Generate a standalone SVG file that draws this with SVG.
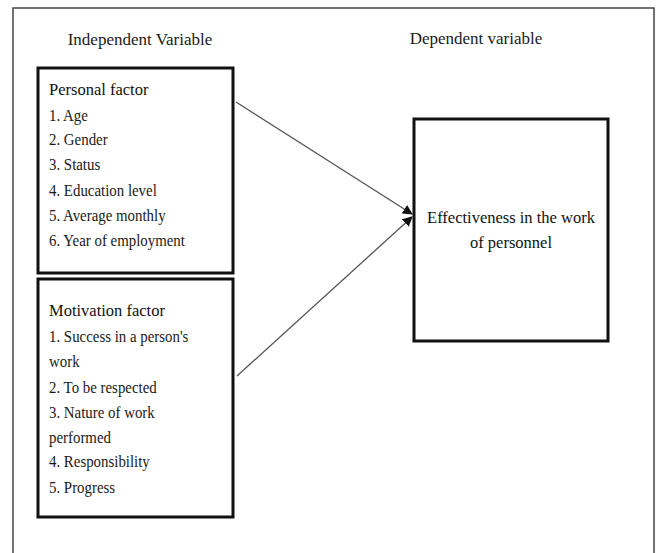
<svg xmlns="http://www.w3.org/2000/svg" width="656" height="553" viewBox="0 0 656 553">
<style>
text{font-family:"Liberation Serif","Times New Roman",serif;fill:#1a1a1a;font-size:16px}
.h{font-size:17px}
.t{font-size:16.5px;fill:#111}
.i{font-size:17px}
.box{fill:#fff;stroke:#111;stroke-width:3}
.conn{stroke:#555;stroke-width:1.3;fill:none}
</style>
<defs>
<marker id="ah" viewBox="0 0 10 10" refX="9" refY="5" markerWidth="10" markerHeight="10" markerUnits="userSpaceOnUse" orient="auto">
<path d="M0,0 L10,5 L0,10 z" fill="#111"/>
</marker>
</defs>
<rect x="0" y="0" width="656" height="553" fill="#fff"/>
<rect x="13" y="8" width="641" height="560" fill="none" stroke="#444" stroke-width="1.5"/>
<g id="headings">
<text class="h" x="140" y="45" text-anchor="middle">Independent Variable</text>
<text class="h" x="476" y="44" text-anchor="middle">Dependent variable</text>
</g>
<g id="personal">
<rect class="box" x="38" y="68" width="195" height="205"/>
<text class="t" x="49" y="95">Personal factor</text>
<text class="i" transform="translate(49,121) scale(0.875,1)">1. Age</text>
<text class="i" transform="translate(49,145) scale(0.875,1)">2. Gender</text>
<text class="i" transform="translate(49,170) scale(0.875,1)">3. Status</text>
<text class="i" transform="translate(49,196) scale(0.875,1)">4. Education level</text>
<text class="i" transform="translate(49,221) scale(0.875,1)">5. Average monthly</text>
<text class="i" transform="translate(49,246) scale(0.875,1)">6. Year of employment</text>
</g>
<g id="motivation">
<rect class="box" x="38" y="279" width="195" height="238"/>
<text class="t" x="49" y="316">Motivation factor</text>
<text class="i" transform="translate(49,342) scale(0.875,1)">1. Success in a person's</text>
<text class="i" transform="translate(49,367) scale(0.875,1)">work</text>
<text class="i" transform="translate(49,393) scale(0.875,1)">2. To be respected</text>
<text class="i" transform="translate(49,418) scale(0.875,1)">3. Nature of work</text>
<text class="i" transform="translate(49,443) scale(0.875,1)">performed</text>
<text class="i" transform="translate(49,467) scale(0.875,1)">4. Responsibility</text>
<text class="i" transform="translate(49,493) scale(0.875,1)">5. Progress</text>
</g>
<g id="effectiveness">
<rect class="box" x="414" y="119" width="194" height="222"/>
<text class="t" x="511" y="223" text-anchor="middle">Effectiveness in the work</text>
<text class="t" x="511" y="248" text-anchor="middle">of personnel</text>
</g>
<g id="connectors">
<line class="conn" x1="236" y1="102" x2="412" y2="214" marker-end="url(#ah)"/>
<line class="conn" x1="237" y1="376" x2="412" y2="217" marker-end="url(#ah)"/>
</g>
</svg>
